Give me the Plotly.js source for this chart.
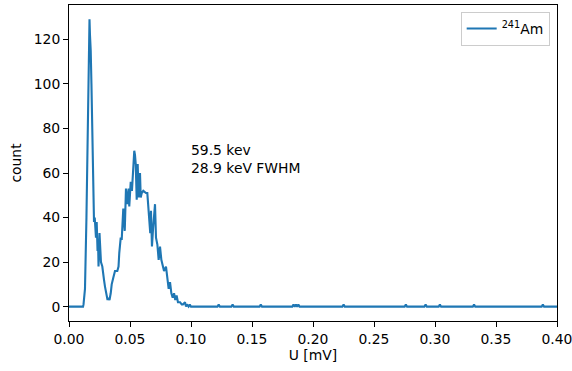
<!DOCTYPE html>
<html>
<head>
<meta charset="utf-8">
<script src="https://cdn.plot.ly/plotly-3.0.1.min.js"></script>
<style>html,body{margin:0;padding:0;background:#fff;}#chart{width:572px;height:371px;}</style>
</head>
<body>
<div id="chart"></div>
<script>
// Spectrum points (U in mV, counts)
const voltage = [
  0.0000, 0.0115, 0.0119, 0.0131, 0.0143, 0.0156, 0.0164, 0.0168, 0.0172, 0.0178,
  0.0184, 0.0189, 0.0197, 0.0201, 0.0205, 0.0211, 0.0216, 0.0221, 0.0227, 0.0234,
  0.0238, 0.0242, 0.0250, 0.0254, 0.0262, 0.0273, 0.0279, 0.0287, 0.0295, 0.0301,
  0.0309, 0.0316, 0.0322, 0.0332, 0.0342, 0.0350, 0.0363, 0.0377, 0.0396, 0.0406,
  0.0412, 0.0424, 0.0432, 0.0440, 0.0445, 0.0457, 0.0467, 0.0478, 0.0489, 0.0494,
  0.0506, 0.0516, 0.0527, 0.0535, 0.0541, 0.0547, 0.0555, 0.0563, 0.0571, 0.0582,
  0.0588, 0.0596, 0.0609, 0.0631, 0.0642, 0.0652, 0.0658, 0.0666, 0.0672, 0.0680,
  0.0689, 0.0697, 0.0705, 0.0713, 0.0724, 0.0735, 0.0746, 0.0757, 0.0768, 0.0779,
  0.0795, 0.0806, 0.0817, 0.0828, 0.0839, 0.0850, 0.0861, 0.0871, 0.0882, 0.0893,
  0.0910, 0.0924, 0.0934, 0.0951, 0.0959, 0.0967, 0.0980, 0.0990, 0.1000, 0.1010,
  0.1217, 0.1227, 0.1237,
  0.1331, 0.1341, 0.1351,
  0.1562, 0.1572, 0.1582,
  0.1830, 0.1840, 0.1850, 0.1860, 0.1870, 0.1880, 0.1890,
  0.2241, 0.2251, 0.2261,
  0.2751, 0.2761, 0.2771,
  0.2913, 0.2923, 0.2933,
  0.3030, 0.3040, 0.3050,
  0.3310, 0.3320, 0.3330,
  0.3874, 0.3884, 0.3894,
  0.4000
];
const counts = [
  0, 0, 1, 8, 40, 100, 127, 129, 122, 115,
  100, 88, 65, 52, 38, 40, 36, 31, 38, 25,
  30, 18, 33, 28, 20, 18, 14, 12, 9, 7,
  5, 3, 4, 3, 6, 10, 13, 16, 16, 18,
  24, 31, 30, 36, 44, 34, 53, 46, 53, 45,
  56, 52, 61, 70, 68, 64, 48, 64, 49, 60,
  49, 51, 52, 51, 51, 45, 40, 33, 43, 27,
  35, 40, 46, 31, 28, 21, 27, 21, 18, 16,
  18, 12, 8, 11, 6, 4, 6, 3, 5, 2,
  2, 1, 1, 2, 0, 1, 0, 1, 0, 0,
  0, 1, 0,
  0, 1, 0,
  0, 1, 0,
  0, 1, 0, 1, 0, 1, 0,
  0, 1, 0,
  0, 1, 0,
  0, 1, 0,
  0, 1, 0,
  0, 1, 0,
  0, 1, 0,
  0
];
const seriesName = '<sup>241</sup>Am';
const noteText = '59.5 kev<br>28.9 keV FWHM';
const noteX = 0.1;
const noteY = 60;
const xTicks = [0, 0.05, 0.10, 0.15, 0.20, 0.25, 0.30, 0.35, 0.40];
const yTicks = [0, 20, 40, 60, 80, 100, 120];

const font = {family: 'DejaVu Sans, sans-serif', size: 13.9, color: '#000'};

Plotly.newPlot('chart', [{
  x: voltage,
  y: counts,
  type: 'scatter',
  mode: 'lines',
  name: seriesName,
  line: {color: '#1f77b4', width: 2.1}
}], {
  width: 572,
  height: 371,
  margin: {l: 69, r: 15, t: 5, b: 50},
  paper_bgcolor: '#fff',
  plot_bgcolor: '#fff',
  font: font,
  showlegend: true,
  legend: {
    x: 0.985, y: 0.978, xanchor: 'right', yanchor: 'top',
    bgcolor: '#fff', bordercolor: '#cccccc', borderwidth: 1,
    itemwidth: 30,
    font: font
  },
  xaxis: {
    range: [0, 0.4],
    tickvals: xTicks,
    tickformat: '.2f',
    ticklabeloverflow: 'allow',
    ticks: 'outside', ticklen: 5, tickwidth: 1, tickcolor: '#000',
    showline: true, linecolor: '#000', linewidth: 1, mirror: true,
    showgrid: false, zeroline: false,
    title: {text: 'U [mV]', font: font, standoff: 3}
  },
  yaxis: {
    range: [-6.45, 135.45],
    tickvals: yTicks,
    ticks: 'outside', ticklen: 5, tickwidth: 1, tickcolor: '#000',
    showline: true, linecolor: '#000', linewidth: 1, mirror: true,
    showgrid: false, zeroline: false,
    title: {text: 'count', font: font, standoff: 8}
  },
  annotations: [{
    x: noteX, y: noteY, xref: 'x', yref: 'y',
    text: noteText, showarrow: false,
    xanchor: 'left', yanchor: 'bottom', align: 'left',
    xshift: -2, yshift: -5,
    font: font
  }]
}, {staticPlot: true, displayModeBar: false});
</script>
</body>
</html>
